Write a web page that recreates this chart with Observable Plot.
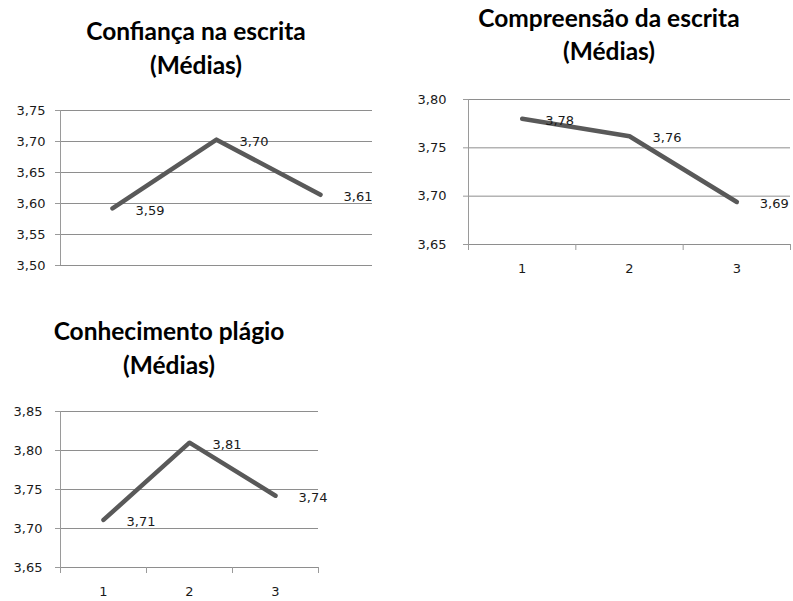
<!DOCTYPE html>
<html>
<head>
<meta charset="utf-8">
<script src="https://cdn.jsdelivr.net/npm/d3@7"></script>
<script src="https://cdn.jsdelivr.net/npm/@observablehq/plot@0.6"></script>
<style>
  html, body { margin: 0; padding: 0; background: #fff; }
  #root { position: relative; width: 793px; height: 601px; overflow: hidden; background: #fff; }
  .panel { position: absolute; overflow: hidden; }
  .title { position: absolute; width: 400px; text-align: center; font-family: Lato, "Open Sans", sans-serif;
           font-weight: bold; font-size: 24.5px; line-height: 24.5px; color: #000; white-space: nowrap; }
  .panel svg { position: absolute; left: 0; top: 0; overflow: visible; }
</style>
</head>
<body>
<div id="root"></div>
<script>
// ---- data ----
const categories = [1, 2, 3];

const confiancaTitle = ["Confiança na escrita", "(Médias)"];
const confiancaValues = [3.592, 3.703, 3.614];
const confiancaTicks = [3.50, 3.55, 3.60, 3.65, 3.70, 3.75];

const compreensaoTitle = ["Compreensão da escrita", "(Médias)"];
const compreensaoValues = [3.780, 3.762, 3.694];
const compreensaoTicks = [3.65, 3.70, 3.75, 3.80];

const conhecimentoTitle = ["Conhecimento plágio", "(Médias)"];
const conhecimentoValues = [3.711, 3.810, 3.742];
const conhecimentoTicks = [3.65, 3.70, 3.75, 3.80, 3.85];

// ---- drawing ----
const fmt = d => d.toFixed(2).replace(".", ",");
const root = document.getElementById("root");

function panel(cfg) {
  const div = document.createElement("div");
  div.className = "panel";
  div.style.left = cfg.left + "px";
  div.style.top = cfg.top + "px";
  div.style.width = cfg.width + "px";
  div.style.height = cfg.clipHeight + "px";
  root.appendChild(div);

  const data = categories.map((c, i) => ({cat: c, v: cfg.values[i]}));
  const ticksEdge = [0.5, 1.5, 2.5, 3.5];
  const marks = [
    Plot.gridY(cfg.ticks, {stroke: "#8e8e8e", strokeOpacity: 1, strokeWidth: 1}),
    Plot.ruleX([0.5], {stroke: "#9a9a9a", strokeWidth: 1}),
    Plot.axisY(cfg.ticks, {tickSize: 5, tickPadding: cfg.yPad, tickFormat: fmt, stroke: "#9a9a9a",
      fill: "#1a1a1a", fontSize: 13, label: null}),
  ];
  if (cfg.xAxis) {
    marks.push(Plot.axisX(ticksEdge, {tickSize: 6, tickFormat: () => "", stroke: "#9a9a9a", label: null}));
    marks.push(Plot.axisX(categories, {tickSize: 0, tickPadding: 19, fill: "#1a1a1a", fontSize: 13, label: null, tickFormat: d => String(d)}));
  } else {
    marks.push(Plot.axisX([], {label: null}));
  }
  marks.push(Plot.line(data, {x: "cat", y: "v", stroke: "#595959", strokeWidth: 4.5, strokeLinejoin: "round"}));
  marks.push(Plot.text(data, {x: "cat", y: "v", text: d => fmt(d.v), textAnchor: "start", dx: 23, dy: 2,
    fill: "#1a1a1a", fontSize: 13}));

  const svg = Plot.plot({
    width: cfg.width,
    height: cfg.height,
    marginLeft: cfg.ml, marginRight: cfg.mr, marginTop: cfg.mt, marginBottom: cfg.mb,
    style: {fontFamily: "'DejaVu Sans', sans-serif", fontSize: "13px", background: "transparent", overflow: "visible"},
    x: {type: "linear", domain: [0.5, 3.5]},
    y: {domain: [cfg.ticks[0], cfg.ticks[cfg.ticks.length - 1]]},
    marks
  });
  div.appendChild(svg);

  cfg.title.forEach((t, i) => {
    const el = document.createElement("div");
    el.className = "title";
    el.textContent = t;
    el.style.left = (cfg.titleX - 200) + "px";
    el.style.top = (cfg.titleBaselines[i] - 18.7) + "px";
    div.appendChild(el);
  });
}

panel({left: 0, top: 0, width: 400, height: 290, clipHeight: 290,
  ml: 60, mr: 28, mt: 110, mb: 25, yPad: 10,
  values: confiancaValues, ticks: confiancaTicks, title: confiancaTitle,
  titleX: 196, titleBaselines: [38, 72], xAxis: false});

panel({left: 400, top: 0, width: 393, height: 290, clipHeight: 275,
  ml: 68, mr: 3, mt: 99, mb: 46, yPad: 17,
  values: compreensaoValues, ticks: compreensaoTicks, title: compreensaoTitle,
  titleX: 209, titleBaselines: [25, 58], xAxis: true});

panel({left: 0, top: 300, width: 400, height: 301, clipHeight: 301,
  ml: 60, mr: 82, mt: 111, mb: 34, yPad: 13,
  values: conhecimentoValues, ticks: conhecimentoTicks, title: conhecimentoTitle,
  titleX: 169, titleBaselines: [38, 72], xAxis: true});
</script>
</body>
</html>
